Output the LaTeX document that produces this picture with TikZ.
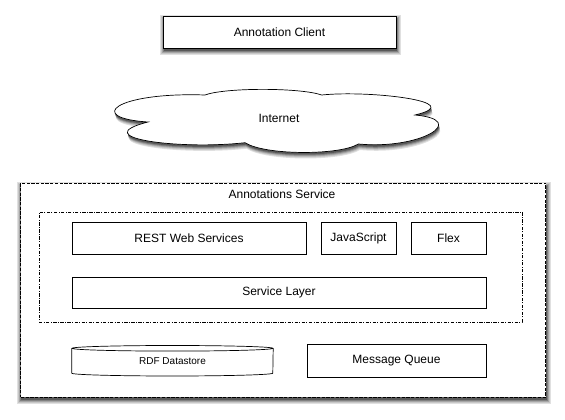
\documentclass[tikz,border=0pt]{standalone}
\usepackage{fontspec}
\setmainfont{Liberation Sans}
\usetikzlibrary{backgrounds}
\newcommand{\cloudpath}{(148,298) .. controls (85,302) and (115,328) .. (205,325)
    .. controls (225,332.5) and (300,332.5) .. (321.7,325)
    .. controls (370,330) and (470,318) .. (415,305)
    .. controls (470,300) and (420,270) .. (358.3,276)
    .. controls (340,264.5) and (265,264.5) .. (245,277.3)
    .. controls (180,270) and (85,282) .. cycle}
\begin{document}
\begin{tikzpicture}[x=1pt,y=1pt,
    box/.style={draw, line width=0.7pt, inner sep=0pt, font=\fontsize{12}{14}\selectfont},
    shadowbox/.style={box, fill=white}]
  \useasboundingbox (0,0) rectangle (565,420);
  \draw[line width=0.7pt, fill=white] \cloudpath;
  \draw
    (279,302) node[box, draw=none] (internet){Internet}
    (279.5,388) node[shadowbox, minimum width=233, minimum height=32] (client){Annotation Client}
    (283.3,130) node[shadowbox, dash pattern=on 3.3pt off 1.4pt, minimum width=525, minimum height=214] (service){}
    (282,226) node[font=\fontsize{12}{14}\selectfont] (servicetitle){Annotations Service}
    (280.5,153) node[box, dash pattern=on 3.3pt off 1.4pt on 1pt off 1.4pt, minimum width=483, minimum height=110] (web){};
  \begin{scope}[every node/.style={box, minimum height=32}]
    \draw
      (189,182) node[minimum width=234] (rest){REST Web Services}
      (358.5,182) node[minimum width=75] (js){JavaScript}
      (448.5,182) node[minimum width=75] (flex){Flex}
      (279,127.5) node[minimum width=414, minimum height=31] (layer){Service Layer}
      (396.5,59.5) node[minimum width=179, minimum height=33] (queue){Message Queue};
  \end{scope}
  \node[inner sep=0pt, minimum width=201, minimum height=24.5, font=\fontsize{10}{12}\selectfont] (rdf) at (172.5,59.25) {RDF Datastore};
  \draw[line width=0.7pt] (rdf.north) ellipse[x radius=100.5, y radius=2.8];
  \draw[line width=0.7pt] (rdf.north west) -- (rdf.south west)
    arc[start angle=180, end angle=360, x radius=100.5, y radius=2.8] -- (rdf.north east);
  \begin{pgfonlayer}{background}
    \foreach \e/\g in {4/12, 3/22, 2/35, 1/50, 0/65}{
      \fill[black!\g] ([shift={({1-\e},{-3-\e})}]client.south west) rectangle ([shift={({1+\e},{-3+\e})}]client.north east);
      \fill[black!\g] ([shift={({1-\e},{-3-\e})}]service.south west) rectangle ([shift={({1+\e},{-3+\e})}]service.north east);
    }
    \foreach \d/\g in {6/12, 5/22, 4/35, 3/50, 2/65}{
      \fill[black!\g, shift={({\d/4},{-\d})}] \cloudpath;
    }
  \end{pgfonlayer}
\end{tikzpicture}
\end{document}
